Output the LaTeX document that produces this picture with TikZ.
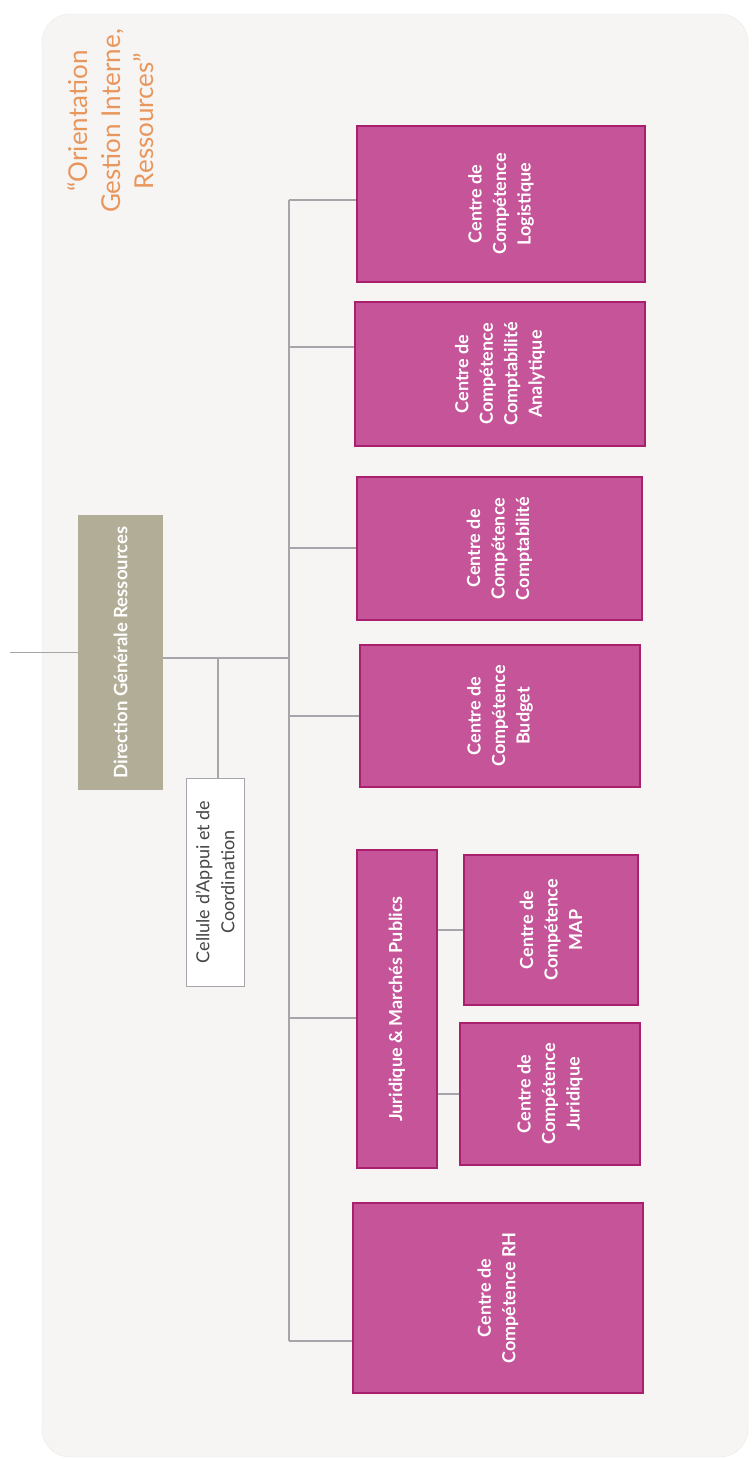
\documentclass[tikz,border=0pt]{standalone}
\usepackage{fontspec}
\setmainfont{Lato}
\usepackage{xcolor}
\definecolor{panelgrey}{RGB}{246,245,244}
\definecolor{paneledge}{RGB}{234,233,232}
\definecolor{unitpink}{RGB}{197,84,153}
\definecolor{unitedge}{RGB}{168,32,110}
\definecolor{headtan}{RGB}{178,173,150}
\definecolor{linkgrey}{RGB}{165,165,170}
\definecolor{cellgrey}{RGB}{70,70,72}
\definecolor{titleorange}{RGB}{233,150,92}

\begin{document}
\begin{tikzpicture}[
    x=1pt,y=-1pt,
    sz/.style 2 args={minimum height=#1pt,minimum width=#2pt},
    unit/.style={rectangle,draw=unitedge,fill=unitpink,line width=1.4pt,rotate=90,
      inner sep=0pt,align=center,text=white,font=\fontsize{18}{24.5}\selectfont\bfseries},
    head/.style={rectangle,fill=headtan,rotate=90,inner sep=0pt,align=center,
      text=white,font=\fontsize{18.5}{24}\selectfont\bfseries},
    cellbox/.style={rectangle,draw=linkgrey,fill=white,line width=1pt,rotate=90,
      inner sep=0pt,align=center,text=cellgrey,font=\fontsize{18}{25}\selectfont},
    title/.style={rotate=90,align=center,text=titleorange,font=\fontsize{26}{33}\selectfont},
    link/.style={draw=linkgrey,line width=1.3pt}
  ]
    \useasboundingbox (0,0) rectangle (752,1459);
    \fill[white] (0,0) rectangle (752,1459);
    \draw[draw=paneledge,fill=panelgrey,rounded corners=28pt] (42,14) rectangle (748,1457);

    \node[title] (orient) at (111,121) {“Orientation\\Gestion Interne,\\Ressources”};

    \node[head,sz={85}{275}] (dg) at (120.5,652.5) {Direction Générale Ressources};
    \node[cellbox,sz={58}{208}] (cell) at (215,882) {Cellule d'Appui et de\\Coordination};

    \node[unit,sz={288}{156}] (log) at (501,204) {Centre de\\Compétence\\Logistique};
    \node[unit,sz={290}{144}] (cca) at (500,374) {Centre de\\Compétence\\Comptabilité\\Analytique};
    \node[unit,sz={285}{143}] (cpt) at (499.5,548.5) {Centre de\\Compétence\\Comptabilité};
    \node[unit,sz={280}{142}] (bud) at (500,716) {Centre de\\Compétence\\Budget};
    \node[unit,sz={80}{318}] (jmp) at (397,1009) {Juridique \& Marchés Publics};
    \node[unit,sz={174}{150}] (map) at (551,930) {Centre de\\Compétence\\MAP};
    \node[unit,sz={180}{142}] (jur) at (550,1094) {Centre de\\Compétence\\Juridique};
    \node[unit,sz={290}{190}] (rh) at (498,1298) {Centre de\\Compétence RH};

    % links
    \coordinate (feed) at (10,652.5);
    \coordinate (hub) at (289,658);
    \coordinate (cj) at (218,658);
    \draw[link] (feed) -- (dg.north);
    \draw[link] (dg.south |- hub) -- (hub);
    \draw[link] (cj) -- (cj |- cell.east);
    \foreach \n/\y in {log/200,cca/347,cpt/548,bud/716,jmp/1018,rh/1341}{
      \coordinate (br\n) at (289,\y);
      \draw[link] (br\n) -- (br\n -| \n.north);
    }
    \draw[link] (brlog) -- (brrh);
    \draw[link] (jmp.south |- map.north) -- (map.north);
    \draw[link] (jmp.south |- jur.north) -- (jur.north);
  \end{tikzpicture}
\end{document}
